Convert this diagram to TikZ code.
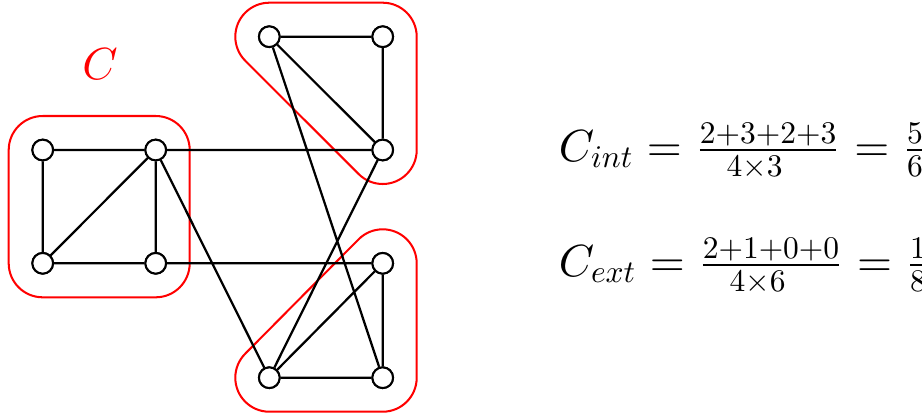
\documentclass[tikz,border=0pt]{standalone}
\usepackage{graphicx}
\usetikzlibrary{calc}
\newcommand{\smallmath}[1]{\scalebox{0.7}{$#1$}}
\begin{document}
\begin{tikzpicture}[x=0.2222pt,y=0.2222pt,
  vtx/.style={circle,draw=black,fill=white,line width=0.45pt,minimum size=4.6pt,inner sep=0pt},
  edge/.style={draw=black,line width=0.5pt},
  hull/.style={draw=red,line width=0.45pt},
  formula/.style={anchor=base west,inner sep=0pt}]
\useasboundingbox[fill=white] (0,0) rectangle (922,415);
% vertices
\node[vtx] (A) at (42.7,265) {};
\node[vtx] (B) at (155.7,265) {};
\node[vtx] (C) at (42.7,151.7) {};
\node[vtx] (D) at (155.7,151.7) {};
\node[vtx] (E) at (269.3,378.3) {};
\node[vtx] (F) at (382.7,378.3) {};
\node[vtx] (G) at (382.7,265) {};
\node[vtx] (H) at (382.7,151.7) {};
\node[vtx] (I) at (269.3,37.3) {};
\node[vtx] (J) at (382.7,37.3) {};
% hulls
\draw[hull,rounded corners=7.555pt] ($(A.center)+(-34,34)$) rectangle ($(D.center)+(34,-34)$);
\draw[hull] ($(E.center)+(0,34)$) -- ($(F.center)+(0,34)$) arc[start angle=90,end angle=0,radius=34]
  -- ($(G.center)+(34,0)$) arc[start angle=0,end angle=-135,radius=34]
  -- ($(E.center)+(225:34)$) arc[start angle=225,end angle=90,radius=34] -- cycle;
\draw[hull] ($(H.center)+(135:34)$) arc[start angle=135,end angle=0,radius=34]
  -- ($(J.center)+(34,0)$) arc[start angle=0,end angle=-90,radius=34]
  -- ($(I.center)+(0,-34)$) arc[start angle=270,end angle=135,radius=34] -- cycle;
% edges
\path[edge] (A) -- (B) (A) -- (C) (C) -- (D) (C) -- (B) (B) -- (D)
  (B) -- (G) (D) -- (H) (B) -- (I)
  (E) -- (F) (E) -- (G) (F) -- (G) (E) -- (J) (G) -- (I)
  (I) -- (H) (I) -- (J) (J) -- (H);
% redraw vertices on top
\foreach \n in {A,B,C,D,E,F,G,H,I,J}{\node[vtx] at (\n.center) {};}
% labels
\node[text=red] (lab) at (100,351) {$C$};
\node[formula] (cint) at (558,254)
  {$C_{\smallmath{int}} = \frac{\smallmath{2{+}3{+}2{+}3}}{\smallmath{4{\times}3}} = \frac{\smallmath{5}}{\smallmath{6}}$};
\node[formula] (cext) at (558,139)
  {$C_{\smallmath{ext}} = \frac{\smallmath{2{+}1{+}0{+}0}}{\smallmath{4{\times}6}} = \frac{\smallmath{1}}{\smallmath{8}}$};
\end{tikzpicture}
\end{document}
